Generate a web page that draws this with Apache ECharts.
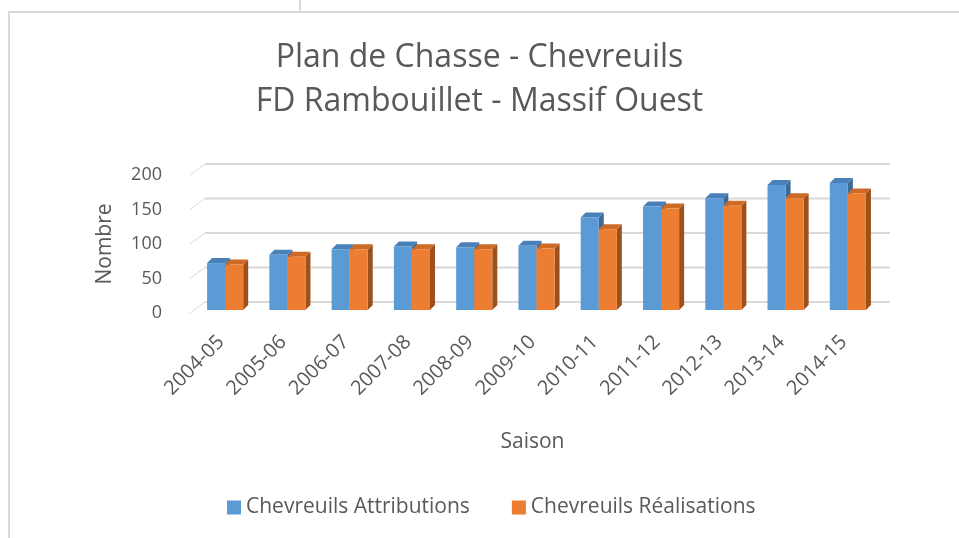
<!DOCTYPE html>
<html>
<head>
<meta charset="utf-8">
<script src="https://cdn.jsdelivr.net/npm/echarts@6/dist/echarts.min.js"></script>
<style>
  html, body { margin: 0; padding: 0; background: #ffffff; }
  #chart { width: 959px; height: 538px; }
</style>
</head>
<body>
<div id="chart"></div>
<script>
// ---- data ----
const categories = ['2004-05','2005-06','2006-07','2007-08','2008-09','2009-10','2010-11','2011-12','2012-13','2013-14','2014-15'];
const attributions = [68, 80, 88, 92, 91, 93, 134, 150, 162, 181, 184];
const realisations = [66, 77, 88, 88, 88, 89, 117, 147, 151, 162, 169];
const yTicks = [0, 50, 100, 150, 200];
const seriesNames = ['Chevreuils Attributions', 'Chevreuils Réalisations'];
const titleLines = ['Plan de Chasse - Chevreuils', 'FD Rambouillet - Massif Ouest'];

// ---- styling / 3D geometry ----
const FONT = 'Open Sans';
const TXT = '#595959';
const WALL_DX = 15, WALL_DY = -11;   // back wall offset from front plane
const BAR_DX = 4, BAR_DY = -3;       // bar plane offset from front plane
const DEPTH_DX = 5, DEPTH_DY = -5;   // bar depth
const BAR_FRAC = 0.29;               // bar width as share of category band
const palettes = [
  { front: '#5b9bd5', top: '#4a80b8', side: '#3d6b98' },
  { front: '#ed7d31', top: '#cd6a26', side: '#9c501c' }
];

function wallRender(params, api) {
  const cs = params.coordSys;
  const p = api.coord([0, api.value(1)]);
  const y = p[1];
  return {
    type: 'group',
    children: [
      { type: 'line', shape: { x1: cs.x, y1: y, x2: cs.x + WALL_DX, y2: y + WALL_DY },
        style: { stroke: '#d9d9d9', lineWidth: 1 } },
      { type: 'line', shape: { x1: cs.x + WALL_DX, y1: y + WALL_DY, x2: cs.x + cs.width + WALL_DX, y2: y + WALL_DY },
        style: { stroke: '#d9d9d9', lineWidth: 2 } }
    ]
  };
}

function makeBarRender(k) {
  const pal = palettes[k];
  return function (params, api) {
    const idx = api.value(0);
    const val = api.value(1);
    const base = api.coord([idx, 0]);
    const top = api.coord([idx, val]);
    const band = api.size([1, 0])[0];
    const w = band * BAR_FRAC;
    const x0 = base[0] + BAR_DX + (k === 0 ? -w : 0);
    const x1 = x0 + w;
    const yb = base[1] + BAR_DY;
    const yt = top[1] + BAR_DY;
    return {
      type: 'group',
      children: [
        { type: 'polygon', shape: { points: [[x1, yt], [x1 + DEPTH_DX, yt + DEPTH_DY], [x1 + DEPTH_DX, yb + DEPTH_DY], [x1, yb]] },
          style: { fill: pal.side } },
        { type: 'polygon', shape: { points: [[x0, yt], [x0 + DEPTH_DX, yt + DEPTH_DY], [x1 + DEPTH_DX, yt + DEPTH_DY], [x1, yt]] },
          style: { fill: pal.top } },
        { type: 'rect', shape: { x: x0, y: yt, width: w, height: yb - yt },
          style: { fill: pal.front } }
      ]
    };
  };
}

const chart = echarts.init(document.getElementById('chart'), null, { renderer: 'canvas' });
chart.setOption({
  animation: false,
  backgroundColor: '#ffffff',
  textStyle: { fontFamily: FONT },
  title: {
    text: titleLines.join('\n'),
    left: 'center',
    top: 36,
    padding: 0,
    textStyle: { fontFamily: FONT, fontSize: 32, fontWeight: 'normal', color: TXT, lineHeight: 44 }
  },
  graphic: [
    { type: 'rect', shape: { x: 9, y: 12, width: 1000, height: 600 },
      style: { fill: 'none', stroke: '#d9d9d9', lineWidth: 2 }, silent: true },
    { type: 'line', shape: { x1: 300, y1: 0, x2: 300, y2: 12 },
      style: { stroke: '#d9d9d9', lineWidth: 2 }, silent: true }
  ],
  legend: {
    data: seriesNames,
    left: 227,
    top: 497,
    padding: 0,
    icon: 'rect',
    itemWidth: 14,
    itemHeight: 14,
    itemGap: 42,
    textStyle: { fontFamily: FONT, fontSize: 21, color: TXT }
  },
  grid: { left: 190, top: 175, width: 685, height: 138, containLabel: false },
  xAxis: {
    type: 'category',
    data: categories,
    axisLine: { show: false },
    axisTick: { show: false },
    axisLabel: { rotate: 45, margin: 26, fontFamily: FONT, fontSize: 20, color: TXT, interval: 0 },
    name: 'Saison',
    nameLocation: 'middle',
    nameGap: 119,
    nameTextStyle: { fontFamily: FONT, fontSize: 21, color: TXT }
  },
  yAxis: {
    type: 'value',
    min: 0,
    max: 200,
    interval: 50,
    axisLine: { show: false },
    axisTick: { show: false },
    splitLine: { show: false },
    axisLabel: { margin: 28, fontFamily: FONT, fontSize: 18, color: TXT },
    name: 'Nombre',
    nameLocation: 'middle',
    nameRotate: 90,
    nameGap: 74,
    nameTextStyle: { fontFamily: FONT, fontSize: 21, color: TXT }
  },
  series: [
    { type: 'custom', name: '_wall', silent: true, z: 1,
      data: yTicks.map(v => [0, v]), encode: { x: 0, y: 1 },
      renderItem: wallRender },
    { type: 'custom', name: seriesNames[0], z: 2,
      itemStyle: { color: palettes[0].front },
      data: attributions.map((v, i) => [i, v]), encode: { x: 0, y: 1 },
      renderItem: makeBarRender(0) },
    { type: 'custom', name: seriesNames[1], z: 3,
      itemStyle: { color: palettes[1].front },
      data: realisations.map((v, i) => [i, v]), encode: { x: 0, y: 1 },
      renderItem: makeBarRender(1) }
  ]
});
</script>
</body>
</html>
